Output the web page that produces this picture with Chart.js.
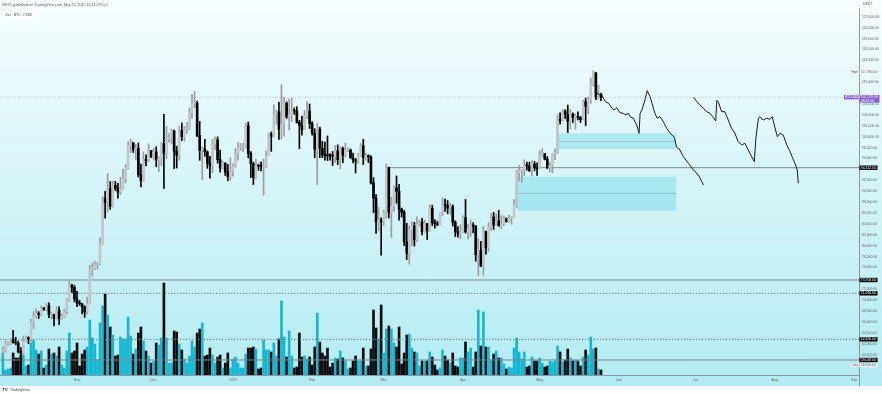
<!DOCTYPE html>
<html><head><meta charset="utf-8">
<script src="https://cdn.jsdelivr.net/npm/chart.js@4"></script>
<style>html,body{margin:0;padding:0;background:#fff;overflow:hidden}#wrap{width:882px;height:394px;position:relative}</style>
</head><body><div id="wrap"><canvas id="c" width="882" height="394"></canvas></div>
<script>
// Days are counted from 1 Nov 2024 (day 0). First candle: 3 Oct 2024.
const firstDay = -29;
const opens = [
60650,60750,62070,62080,62820,62220,62130,60580,60270,62450,63190,62850,66050,67040,67610,67400,68420,68360,69000,67370,67370,66680,68160,66640,67010,67940,69910,72720,72340,
70220,69500,69370,68780,67810,69360,75640,75900,76540,76680,80370,88700,87960,90520,87250,91060,90560,89850,90460,92310,94290,98350,98890,97670,97900,93010,91970,95860,95640,97460,
96410,97190,95840,96000,98770,96940,99740,99830,101110,97360,96590,101120,100000,101420,101420,104460,106060,106130,100200,97460,97760,97220,95100,94690,98680,99430,95790,94270,95160,93530,92640,
93580,94590,96890,98110,98240,98310,102080,96920,95040,92480,94700,94570,94510,94520,96530,100500,99990,104080,104550,101330,102260,106140,103650,103960,104820,104710,102620,102080,101330,103730,104730,
102430,100640,97690,101400,97870,96620,96550,96490,96460,96450,97430,95780,97870,96610,97500,97570,96120,95770,95540,96620,98330,96130,96580,96270,91550,88740,84350,84700,
84370,86060,94270,86120,87220,90620,89960,86740,86150,80730,78600,82930,83680,81070,83970,84340,82580,84080,82720,86850,84170,84040,83830,86080,87500,87420,86900,87230,84350,82600,82330,
82550,85160,82520,83100,83840,83500,78370,79140,76270,82570,79630,83400,85280,83760,84540,83630,84030,84950,84450,85060,85170,87520,93440,93700,93940,94720,94650,93750,94980,94280,
94170,96490,96910,95890,94320,94750,96830,97030,103240,102970,104700,104120,102820,104160,103540,103740,103560,103130,106450,105600,106790,109640,111700,107300,107790];
const highs = [
61500,62500,62370,63000,64480,63200,62500,61300,63400,63450,63270,66500,67950,68420,67900,68970,68700,69400,69520,67800,67450,68800,68770,67450,68370,70270,73620,72960,72700,
71630,69940,69390,69000,70580,76400,76850,77200,76940,81500,89000,89960,93260,91760,91850,91800,91450,92590,94000,94900,99070,99590,98900,98600,98870,94970,97200,96650,98690,97460,
97900,98150,96300,99000,104090,101900,100550,101400,101220,98270,101890,102540,101900,102650,105250,107780,108350,106520,102800,98140,99540,97400,96420,99500,99960,99960,97550,95500,95200,94900,96160,
95000,97840,98980,98730,98820,102480,102720,97260,95350,95840,94980,95400,95900,97370,100680,100870,105870,104900,106300,109590,107240,106390,106850,107100,105290,105500,103000,103780,104800,106460,106000,
102770,101460,102500,101760,99150,99000,100140,96900,97300,98350,98500,98120,98100,98830,97970,97730,97000,96000,96900,98760,99500,96960,96670,96500,92500,89400,87000,85120,
86570,95000,94420,88900,91000,92800,91280,86900,86500,84120,83600,84360,84300,85300,84670,85000,84730,84100,87450,87450,84780,84500,86100,88760,88550,88290,87800,87500,84570,83500,83870,
85500,88500,83940,84720,84230,83750,81240,80800,83540,82700,84250,85900,86100,85800,86500,85500,85470,85100,85600,85320,88460,93820,94700,94000,95760,95320,95350,95600,95460,95200,
97440,97900,96940,96320,95200,96900,97730,103970,104360,104980,104950,105820,104990,104370,104200,104550,103700,106660,107100,107300,110800,111980,111800,109500,108000];
const lows = [
59800,60450,61700,61800,62100,61800,60300,58900,60050,62400,62000,62400,64800,66750,66660,67160,68100,68100,66800,66570,65260,66530,65520,66500,66800,67500,69730,71430,69680,
68820,69040,67480,66840,67460,69300,74420,75580,75730,76500,80220,85070,86130,86670,87100,90090,88720,89380,90390,91500,94100,97100,97100,95750,92600,90790,91800,94670,95380,96160,
95700,94500,93580,94700,90500,95980,98930,98700,94150,94260,95700,99310,99200,100600,101230,103340,105300,100000,95670,92100,96400,94200,92400,93400,97600,95150,93500,94100,92880,91900,92000,
92740,94400,95700,97500,97200,97900,96100,92500,91200,92200,93830,93700,89260,94300,96500,97300,99950,102300,99500,99550,100100,103300,101200,102750,104100,102500,97780,100270,101300,103300,101500,
100300,96150,91230,96150,96150,95680,95620,95700,94700,95250,94870,94100,95200,96250,97230,96050,95200,93340,95100,96400,94870,95700,95270,91350,86050,82260,82700,78260,
83750,85060,85100,81500,86350,87800,84670,85220,80000,77460,76600,80000,79940,80760,83630,82000,82460,81130,82640,83640,83200,83650,83770,85540,86300,85850,85800,83600,81630,81560,81280,
82430,82300,81200,81660,82350,77150,74500,76200,74590,78450,78940,82770,83000,83680,83600,83100,83740,84300,84300,83950,85140,87080,91900,91660,92850,93860,93600,92800,93730,92900,
94130,96300,95750,94100,93500,93380,95800,96900,102300,102800,103300,100720,101430,102600,101380,103100,102600,103100,102000,104200,106100,109300,106800,106900,106600];
const closes = [
60750,62070,62080,62820,62220,62130,60580,60270,62450,63190,62850,66050,67040,67610,67400,68420,68360,69000,67370,67370,66680,68160,66640,67010,67940,69910,72720,72340,70220,
69500,69370,68780,67810,69360,75640,75900,76540,76680,80370,88700,87960,90520,87250,91060,90560,89850,90460,92310,94290,98350,98890,97670,97900,93010,91970,95860,95640,97460,96410,
97190,95840,96000,98770,96940,99740,99830,101110,97360,96590,101120,100000,101420,101420,104460,106060,106130,100200,97460,97760,97220,95100,94690,98680,99430,95790,94270,95160,93530,92640,93580,
94590,96890,98110,98240,98310,102080,96920,95040,92480,94700,94570,94510,94520,96530,100500,99990,104080,104550,101330,102260,106140,103650,103960,104820,104710,102620,102080,101330,103730,104730,102430,
100640,97690,101400,97870,96620,96550,96490,96460,96450,97430,95780,97870,96610,97500,97570,96120,95770,95540,96620,98330,96130,96580,96270,91550,88740,84350,84700,84370,
86060,94270,86120,87220,90620,89960,86740,86150,80730,78600,82930,83680,81070,83970,84340,82580,84080,82720,86850,84170,84040,83830,86080,87500,87420,86900,87230,84350,82600,82330,82550,
85160,82520,83100,83840,83500,78370,79140,76270,82570,79630,83400,85280,83760,84540,83630,84030,84950,84450,85060,85170,87520,93440,93700,93940,94720,94650,93750,94980,94280,94170,
96490,96910,95890,94320,94750,96830,97030,103240,102970,104700,104120,102820,104160,103540,103740,103560,103130,106450,105600,106790,109640,111700,107300,107790,107230];
// volume (thousand BTC)
const volumes = [
22,5,6,7,22,17,17,20,20,9, 10,32,35,25,21,24,7,10,26,21, 22,19,28,10,7,24,42,22,24,32,
9,21,25,28,55,37,31,15,52,69, 81,60,48,40,19,20,38,36,36,58, 39,21,26,42,48,34,24,19,12,14,
32,30,37,92,37,12,12,44,43,31, 25,16,12,19,34,28,42,46,52,19, 20,27,20,12,18,20,7,12,22,7,
16,18,12,7,7,21,27,27,28,26, 6,7,35,25,25,23,32,19,36,74, 38,18,44,19,7,8,
42,18,19,16,18,10,28,62,33,22, 19,27,8,12,17,16,24,17,14,6, 7,14,19,14,14,27,9,9,26,65,
47,36,70,22,46,49,46,32,28,48, 11,22,40,41,27,23,22,9,14,14, 14,23,18,10,5,7,25,19,15,12,
22,9,8,17,17,33,23,27,8,23, 65,29,63,28,28,15,21,24,17,17, 11,6,8,7,27,37,23,16,23,8,
9,18,14,14,17,12,8,9,14,13, 14,29,23,13,15,26,17,14,15,14, 9,18,25,20,38,26,27,6,5];

const monthDays = [0,30,61,92,120,151,181,212,242,273,304];
const monthLabels = ["Nov","Dec","2025","Feb","Mar","Apr","May","Jun","Jul","Aug","Sep"];
const priceTickStep = 2000;

// horizontal levels
const resistanceLevel = 94312, resistanceFromDay = 121;
const solidLevels = [73706, 59028];
const dottedLevels = [71266, 62826];
const currentPrice = 107229.59;

// supply / demand zones
const zoneFrom = [187.4, 172.3];
const zoneTo = [234.4, 234.4];
const zoneHigh = [100620, 92660];
const zoneLow = [97740, 86420];
const zoneMid = [99210, 89620];

// projected paths (day, price)
const pathADays = [203.3,205.3,206.7,208.0,209.3,210.1,211.2,212.4,213.7,214.8,215.7,216.4,217.6,219.0,219.9,220.3,221.0,222.2,223.1,224.2,226.1,227.0,228.1,229.4,230.7,232.3,233.7,234.6,235.9,237.2,239.2,241.2,243.1,245.1];
const pathAPrices = [107960,107650,106420,106130,105210,104900,105320,104400,104290,103980,104290,103670,103380,102150,100620,104290,104900,106730,108440,107340,104290,103380,103670,102750,101540,100500,99890,98060,97560,96330,95120,93890,92970,91140];
const pathBDays = [241.2,242.5,243.8,245.1,246.4,247.7,248.9,249.9,250.3,250.9,252.2,253.5,254.8,256.1,257.4,258.7,260.1,261.3,262.6,265.0,265.6,266.6,267.2,268.5,269.8,271.1,272.0,272.8,274.0,275.0,276.3,277.7,279.0,280.0,280.9,281.8,282.2];
const pathBPrices = [107230,106420,105820,105210,104590,104290,103560,102880,106610,106420,104590,104590,103060,101540,100620,99080,98480,98790,97560,95410,99710,103380,103670,103060,103380,103190,103670,102150,100000,100620,100310,98480,97250,96040,95120,93890,91450];

// view ranges
const xMin = -30.13, xMax = 305.95, yMin = 56275, yMax = 123614, volMax = 367;

const FONT = '"Liberation Sans", Arial, sans-serif';
Chart.defaults.font.family = FONT;

const days = closes.map((_, i) => firstDay + i);
const up = closes.map((c, i) => c >= opens[i]);
const C = {upBody:'#c3c5c9', upWick:'#9a9da2', dn:'#000000', vUp:'#14b8d2', vDn:'#0b0b0b',
  level:'#7d878d', path:'#1c1c1c', zone:'rgba(0,188,212,0.22)', zoneMid:'rgba(110,130,140,0.35)'};

const fmt = v => Number(v).toLocaleString('en-US', {minimumFractionDigits:2, maximumFractionDigits:2});
const lowVal = Math.min(...lows), highVal = Math.max(...highs);

function hline(p, from, style) {
  return Object.assign({type:'line', yAxisID:'y', data:[{x:from,y:p},{x:xMax,y:p}],
    pointRadius:0, borderWidth:1, borderColor:C.level, order:5}, style || {});
}

const datasets = [
  {type:'bar', yAxisID:'yv', order:10, grouped:false, barThickness:2,
   data: days.map((d,i)=>({x:d, y:volumes[i]})), backgroundColor: up.map(u=>u?C.vUp:C.vDn)},
  hline(resistanceLevel, resistanceFromDay),
  ...solidLevels.map(p=>hline(p, xMin)),
  ...dottedLevels.map(p=>hline(p, xMin, {borderDash:[1.5,1.5]})),
  hline(currentPrice, xMin, {borderDash:[1,1.5], borderColor:'rgba(120,125,135,0.35)'}),
  {type:'bar', yAxisID:'y', order:3, grouped:false, barThickness:1,
   data: days.map((d,i)=>({x:d, y:[lows[i], highs[i]]})), backgroundColor: up.map(u=>u?C.upWick:C.dn)},
  {type:'bar', yAxisID:'y', order:2, grouped:false, barThickness:2, minBarLength:1,
   data: days.map((d,i)=>({x:d, y:[opens[i], closes[i]]})), backgroundColor: up.map(u=>u?C.upBody:C.dn)},
  {type:'line', yAxisID:'y', order:0, pointRadius:0, borderWidth:1, borderColor:C.path, tension:0,
   data: pathADays.map((d,i)=>({x:d, y:pathAPrices[i]}))},
  {type:'line', yAxisID:'y', order:0, pointRadius:0, borderWidth:1, borderColor:C.path, tension:0,
   data: pathBDays.map((d,i)=>({x:d, y:pathBPrices[i]}))}
];

const hideNear = [[resistanceLevel,650],[73706,650],[71266,650],[62826,650],[59028,650],[currentPrice,1100],[highVal,900],[lowVal,1000]];

const deco = {
  id:'deco',
  beforeDraw(chart){
    const ctx = chart.ctx;
    const g = ctx.createLinearGradient(0,0,0,386);
    g.addColorStop(0,'#f6fdfe'); g.addColorStop(1,'#b2ebf2');
    ctx.save();
    ctx.fillStyle = g; ctx.fillRect(0,0,882,386);
    ctx.fillStyle = '#ffffff'; ctx.fillRect(0,386,882,8);
    ctx.restore();
  },
  beforeDatasetsDraw(chart){
    const {ctx, scales:{x, y}, chartArea:a} = chart;
    ctx.save();
    ctx.beginPath(); ctx.rect(a.left, a.top, a.right-a.left, a.bottom-a.top); ctx.clip();
    zoneFrom.forEach((f,i)=>{
      const x0 = x.getPixelForValue(f), x1 = x.getPixelForValue(zoneTo[i]);
      const y0 = y.getPixelForValue(zoneHigh[i]), y1 = y.getPixelForValue(zoneLow[i]);
      ctx.fillStyle = C.zone; ctx.fillRect(x0, y0, x1-x0, y1-y0);
      const ym = Math.round(y.getPixelForValue(zoneMid[i]))+0.5;
      ctx.strokeStyle = C.zoneMid; ctx.lineWidth = 1;
      ctx.beginPath(); ctx.moveTo(x0, ym); ctx.lineTo(x1, ym); ctx.stroke();
    });
    ctx.restore();
  },
  afterDraw(chart){
    const {ctx, scales:{y}, chartArea:a} = chart;
    const ax = a.right;
    ctx.save();
    ctx.textBaseline = 'middle'; ctx.textAlign = 'left';
    ctx.font = '3.4px ' + FONT;
    ctx.strokeStyle = '#8d999f'; ctx.lineWidth = 1;
    ctx.beginPath(); ctx.moveTo(Math.round(ax)+0.5, a.bottom); ctx.lineTo(Math.round(ax)+0.5, 386); ctx.stroke();
    [resistanceLevel, ...solidLevels, ...dottedLevels].forEach(p=>{
      const py = y.getPixelForValue(p);
      ctx.fillStyle = '#000'; ctx.fillRect(ax+0.5, py-2.2, 18, 4.4);
      ctx.fillStyle = '#fff'; ctx.fillText(fmt(p), ax+1.8, py+0.2);
    });
    let py = y.getPixelForValue(highVal);
    ctx.fillStyle = 'rgba(255,255,255,0.75)'; ctx.fillRect(ax-8.5, py-2, 8, 4); ctx.fillRect(ax+0.5, py-2.2, 18, 4.4);
    ctx.fillStyle = '#55595f'; ctx.fillText('High', ax-7.6, py+0.2); ctx.fillText(fmt(highVal), ax+1.8, py+0.2);
    py = y.getPixelForValue(lowVal) + 4.4;
    ctx.fillStyle = 'rgba(255,255,255,0.75)'; ctx.fillRect(ax-8.5, py-2, 8, 4); ctx.fillRect(ax+0.5, py-2.2, 18, 4.4);
    ctx.fillStyle = '#55595f'; ctx.fillText('Low', ax-7.2, py+0.2); ctx.fillText(fmt(lowVal), ax+1.8, py+0.2);
    py = y.getPixelForValue(currentPrice);
    ctx.fillStyle = '#8a5fd0'; ctx.fillRect(ax-15, py-2.3, 14.6, 4.4); ctx.fillRect(ax+0.5, py-2.3, 20, 7.6);
    ctx.fillStyle = '#fff'; ctx.fillText('BTCUSDT', ax-14.2, py);
    ctx.fillText(fmt(currentPrice), ax+1.8, py-0.2); ctx.fillText('08:45:56', ax+1.8, py+3.3);
    ctx.fillStyle = '#55595f'; ctx.fillText('USDT', ax+4, 4.5);
    ctx.font = '3.6px ' + FONT;
    ctx.fillStyle = '#5a5e66';
    ctx.fillText('NKYL published on TradingView.com, May 25, 2025 15:14 UTC+1', 2.5, 4.5);
    ctx.fillStyle = 'rgba(255,255,255,0.8)'; ctx.fillRect(3, 11.5, 34, 6);
    ctx.fillStyle = '#4a4e56';
    ctx.fillText('Vol \u00b7 BTC  7.34K', 5.5, 14.6);
    ctx.fillStyle = '#131722';
    ctx.font = 'bold 4px ' + FONT; ctx.fillText('TV', 2.5, 390);
    ctx.font = '3.6px ' + FONT; ctx.fillStyle = '#3a3e46'; ctx.fillText('TradingView', 10, 390);
    ctx.restore();
  }
};

new Chart(document.getElementById('c').getContext('2d'), {
  type:'bar',
  data:{datasets},
  options:{
    responsive:false, animation:false, devicePixelRatio:1,
    layout:{padding:{top:8, left:0, right:0, bottom:0}},
    plugins:{legend:{display:false}, tooltip:{enabled:false}},
    scales:{
      x:{type:'linear', min:xMin, max:xMax, offset:false,
        grid:{display:false, drawTicks:false, tickLength:0}, border:{display:true, color:'#8d999f', width:1},
        afterBuildTicks(s){ s.ticks = monthDays.map(v=>({value:v})); },
        afterFit(s){ s.height = 19; },
        ticks:{autoSkip:false, maxRotation:0, minRotation:0, padding:3, color:'#62676d', font:{size:3.6},
          callback(v){ const k = monthDays.indexOf(v); return k >= 0 ? monthLabels[k] : ''; }}},
      y:{type:'linear', position:'right', min:yMin, max:yMax,
        grid:{display:false, drawTicks:false, tickLength:0}, border:{display:true, color:'#8d999f', width:1},
        afterBuildTicks(s){
          const t = [];
          for (let v = Math.ceil(yMin/priceTickStep)*priceTickStep; v <= yMax; v += priceTickStep) t.push({value:v});
          s.ticks = t;
        },
        afterFit(s){ s.width = 23; },
        ticks:{autoSkip:false, padding:3, color:'#62676d', font:{size:3.4},
          callback(v){ for (const [m,t] of hideNear) if (Math.abs(v-m) < t) return ''; return fmt(v); }}},
      yv:{type:'linear', display:false, min:0, max:volMax}
    }
  },
  plugins:[deco]
});
</script></body></html>
